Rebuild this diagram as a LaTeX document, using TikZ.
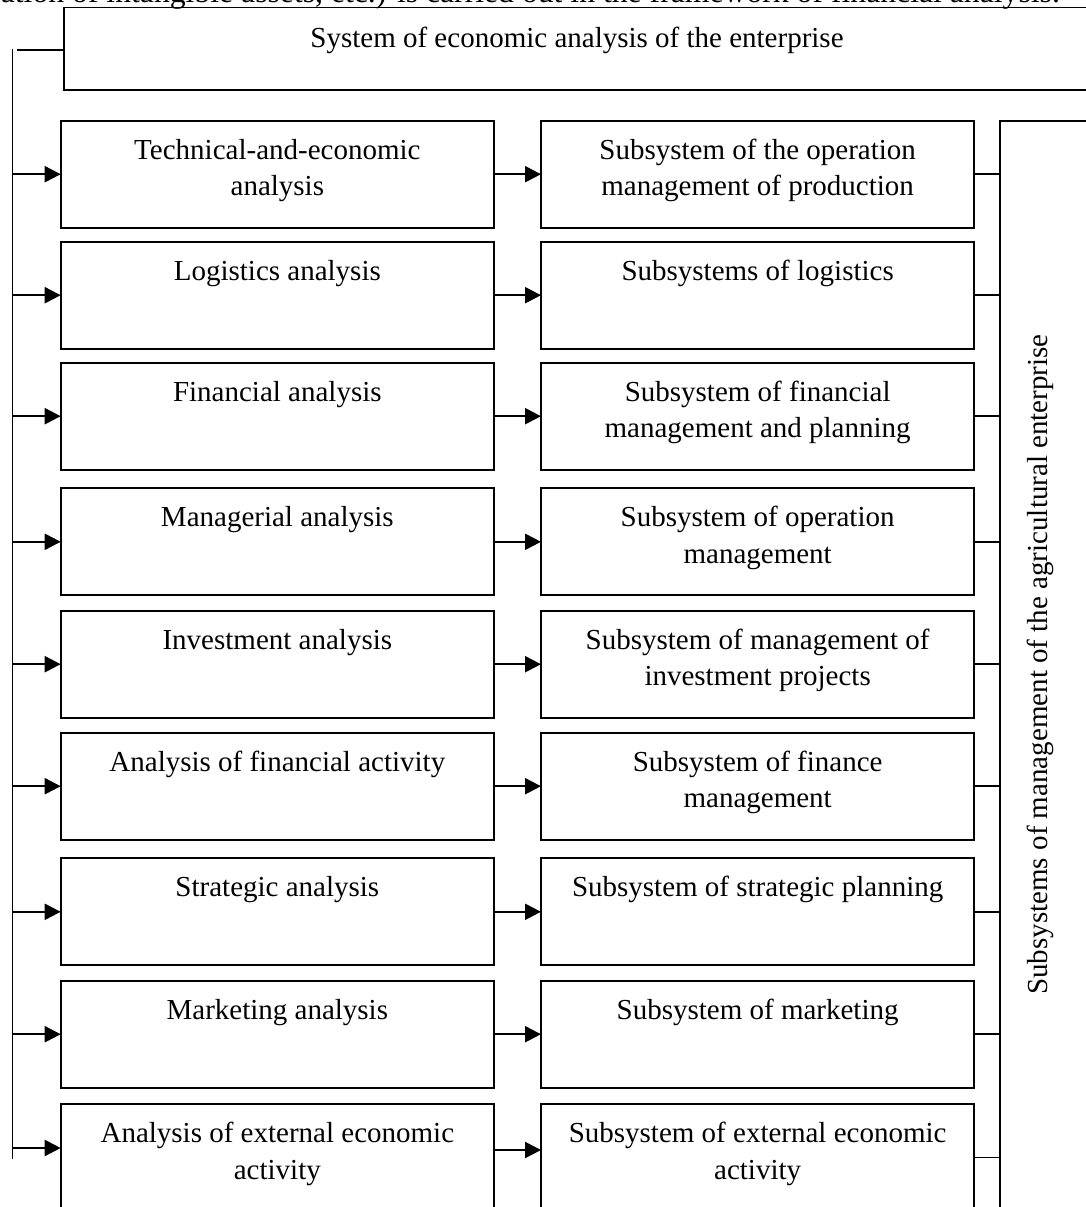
\documentclass[tikz,border=0pt]{standalone}
\usepackage{fontspec}
\setmainfont{Liberation Serif}
\usetikzlibrary{arrows.meta}
\newcommand{\bxt}[1]{\parbox[c][107pt][t]{433.3pt}{\centering\rule{0pt}{38.5pt}#1}}
\begin{document}
\begin{tikzpicture}[x=1pt,y=-1pt,
  box/.style={draw,line width=1.9pt,inner sep=0pt,outer sep=0pt,minimum width=433.3pt,minimum height=107pt},
  arr/.style={line width=2.2pt,-{Triangle[length=16pt,width=16pt]}},
  ln/.style={line width=1.9pt},
  font=\fontsize{29}{36.7}\selectfont]
\useasboundingbox (0,0) rectangle (1086,1207);
\clip (0,0) rectangle (1086,1207);

% cut-off text line at the top
\node[anchor=base east,inner sep=0pt,font=\fontsize{31.7}{36}\selectfont] (cut) at (1060,3) {ation of intangible assets, etc.) is carried out in the framework of financial analysis.};

% top box
\node[draw,line width=1.9pt,inner sep=0pt,outer sep=0pt,minimum width=1026pt,minimum height=82.5pt] (top) at (577,48.75)
  {\parbox[c][82.5pt][t]{1026pt}{\centering\rule{0pt}{40pt}System of economic analysis of the enterprise}};

% left column
\node[box] (L1) at (277.35,174.2) {\bxt{Technical-and-economic\\analysis}};
\node[box] (L2) at (277.35,295.2) {\bxt{Logistics analysis}};
\node[box] (L3) at (277.35,416.2) {\bxt{Financial analysis}};
\node[box] (L4) at (277.35,541.8) {\bxt{Managerial analysis}};
\node[box] (L5) at (277.35,664.2) {\bxt{Investment analysis}};
\node[box] (L6) at (277.35,786.2) {\bxt{Analysis of financial activity}};
\node[box] (L7) at (277.35,911.8) {\bxt{Strategic analysis}};
\node[box] (L8) at (277.35,1034.2) {\bxt{Marketing analysis}};
\node[box] (L9) at (277.35,1157.5) {\bxt{Analysis of external economic\\activity}};

% right column
\node[box] (R1) at (757.65,174.2) {\bxt{Subsystem of the operation\\management of production}};
\node[box] (R2) at (757.65,295.2) {\bxt{Subsystems of logistics}};
\node[box] (R3) at (757.65,416.2) {\bxt{Subsystem of financial\\management and planning}};
\node[box] (R4) at (757.65,541.8) {\bxt{Subsystem of operation\\management}};
\node[box] (R5) at (757.65,664.2) {\bxt{Subsystem of management of\\investment projects}};
\node[box] (R6) at (757.65,786.2) {\bxt{Subsystem of finance\\management}};
\node[box] (R7) at (757.65,911.8) {\bxt{Subsystem of strategic planning}};
\node[box] (R8) at (757.65,1034.2) {\bxt{Subsystem of marketing}};
\node[box] (R9) at (757.65,1157.5) {\bxt{Subsystem of external economic\\activity}};

% tall right box
\node[draw,line width=1.9pt,inner sep=0pt,outer sep=0pt,minimum width=109.7pt,minimum height=1109.3pt] (sub) at (1055.15,675.35) {};
\node[rotate=90,anchor=base,inner sep=0pt] (sublbl) at (1047.5,664.5) {Subsystems of management of the agricultural enterprise};

% trunk on the left
\coordinate (trunk) at (12.5,49);
\coordinate (trunkend) at (12.5,1159);
\coordinate (hstart) at (17,50);
\draw[ln] (trunk) -- (trunkend);
\draw[ln] (hstart) -- (hstart -| top.west);

\foreach \i in {1,...,8}{
  \draw[arr] (trunk |- L\i.west) -- (L\i.west);
  \draw[arr] (L\i.east) -- (R\i.west);
  \draw[ln] (R\i.east) -- (R\i.east -| sub.west);
}
\coordinate (a9) at (12.5,1148);
\coordinate (m9) at (494,1150);
\draw[arr] (a9) -- (a9 -| L9.west);
\draw[arr] (m9 -| L9.east) -- (m9 -| R9.west);
\draw[ln] (R9.east) -- (R9.east -| sub.west);
\end{tikzpicture}
\end{document}
